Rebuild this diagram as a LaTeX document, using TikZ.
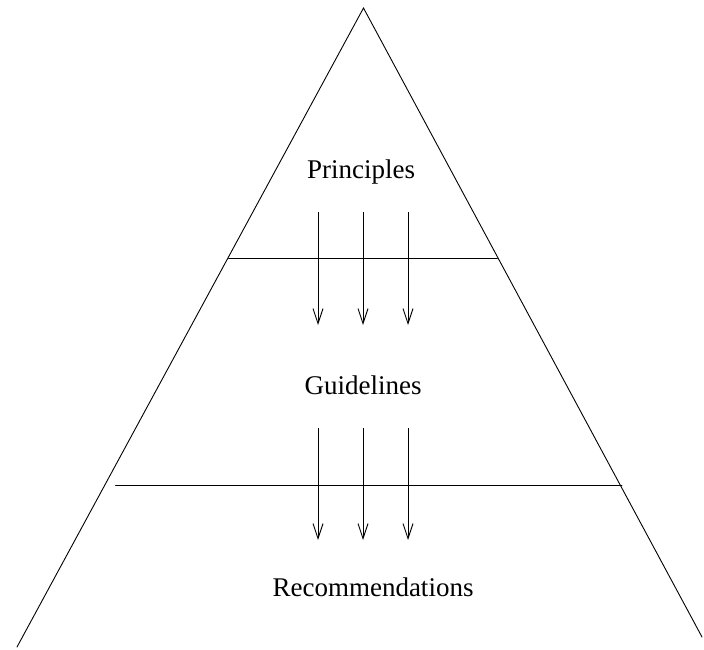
\documentclass[tikz,border=0pt]{standalone}
\usepackage{fontspec}
\setmainfont{Liberation Serif}
\usetikzlibrary{arrows.meta}
\begin{document}
\begin{tikzpicture}[x=1pt,y=-1pt,
  edge/.style={line width=0.9pt, line cap=round},
  flow/.style={line width=0.9pt, -{Straight Barb[length=15pt,width=10pt,line width=0.9pt]}},
  label/.style={font=\fontsize{27}{30}\selectfont, inner sep=0pt}]
\useasboundingbox (0,0) rectangle (704,650);
% triangle
\coordinate (apex) at (363.5,8);
\coordinate (bl) at (17,647);
\coordinate (br) at (702,637);
\draw[edge] (bl) -- (apex) -- (br);
% dividers
\coordinate (d1l) at (228.5,258);
\coordinate (d1r) at (497.5,258);
\coordinate (d2l) at (115.5,485);
\coordinate (d2r) at (622,485);
\draw[edge] (d1l) -- (d1r);
\draw[edge] (d2l) -- (d2r);
% labels
\node[label] (p) at (361,172) {Principles};
\node[label] (g) at (363,385) {Guidelines};
\node[label] (r) at (373,587) {Recommendations};
% arrows
\foreach \x [count=\i] in {318,363,408} {
  \coordinate (a\i) at (\x,212);
  \coordinate (b\i) at (\x,325);
  \coordinate (c\i) at (\x,428);
  \coordinate (e\i) at (\x,540);
  \draw[flow] (a\i) -- (b\i);
  \draw[flow] (c\i) -- (e\i);
}
\end{tikzpicture}
\end{document}
